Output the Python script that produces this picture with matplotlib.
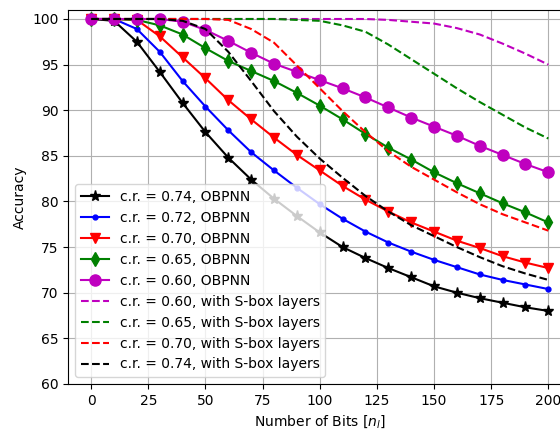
import numpy as np
import matplotlib
matplotlib.use('Agg')
import matplotlib.pyplot as plt

bits = np.arange(0, 201, 10)

# OBPNN curves
acc_074 = [100, 99.8, 97.5, 94.2, 90.8, 87.6, 84.8, 82.4, 80.3, 78.4, 76.6, 75.0, 73.8,
           72.7, 71.7, 70.7, 70.0, 69.4, 68.9, 68.4, 68.0]
acc_072 = [100, 100, 98.9, 96.4, 93.2, 90.4, 87.8, 85.4, 83.4, 81.5, 79.7, 78.1, 76.7,
           75.5, 74.5, 73.6, 72.8, 72.0, 71.4, 70.9, 70.4]
acc_070 = [100, 100, 99.9, 98.1, 95.8, 93.5, 91.1, 89.0, 87.0, 85.1, 83.4, 81.7, 80.2,
           78.9, 77.7, 76.7, 75.7, 74.9, 74.0, 73.3, 72.7]
acc_065 = [100, 100, 99.9, 99.3, 98.3, 96.8, 95.4, 94.3, 93.2, 91.9, 90.5, 89.0, 87.4,
           85.9, 84.6, 83.2, 82.0, 80.9, 79.8, 78.8, 77.7]
acc_060 = [100, 100, 100, 100, 99.7, 98.8, 97.6, 96.3, 95.1, 94.2, 93.3, 92.4, 91.4,
           90.3, 89.2, 88.2, 87.2, 86.1, 85.1, 84.1, 83.2]

# with S-box layers
sbox_060 = [100, 100, 100, 100, 100, 100, 100, 100, 100, 100, 100, 100, 100,
            99.9, 99.7, 99.5, 99.0, 98.3, 97.3, 96.2, 95.0]
sbox_065 = [100, 100, 100, 100, 100, 100, 100, 100, 100, 99.9, 99.8, 99.3, 98.6,
            97.2, 95.6, 94.0, 92.4, 90.9, 89.5, 88.1, 86.9]
sbox_070 = [100, 100, 100, 100, 100, 100, 99.9, 98.9, 97.4, 94.9, 92.4, 89.9, 87.6,
            85.5, 83.8, 82.4, 81.0, 79.7, 78.6, 77.7, 76.8]
sbox_074 = [100, 100, 100, 100, 99.8, 98.9, 96.4, 93.2, 89.9, 87.1, 84.7, 82.6, 80.6,
            78.9, 77.4, 76.2, 75.0, 73.9, 72.9, 72.1, 71.4]

fig = plt.figure(figsize=(5.6, 4.29), dpi=100)
ax = fig.add_axes([0.122, 0.105, 0.898, 0.872])

ax.plot(bits, acc_074, color='k', ls='-', marker='*', markersize=8, label='c.r. = 0.74, OBPNN')
ax.plot(bits, acc_072, color='b', ls='-', marker='.', markersize=7, label='c.r. = 0.72, OBPNN')
ax.plot(bits, acc_070, color='r', ls='-', marker='v', markersize=7, label='c.r. = 0.70, OBPNN')
ax.plot(bits, acc_065, color='g', ls='-', marker='d', markersize=7, label='c.r. = 0.65, OBPNN')
ax.plot(bits, acc_060, color='m', ls='-', marker='o', markersize=8, label='c.r. = 0.60, OBPNN')
ax.plot(bits, sbox_060, 'm--', label='c.r. = 0.60, with S-box layers')
ax.plot(bits, sbox_065, 'g--', label='c.r. = 0.65, with S-box layers')
ax.plot(bits, sbox_070, 'r--', label='c.r. = 0.70, with S-box layers')
ax.plot(bits, sbox_074, 'k--', label='c.r. = 0.74, with S-box layers')

ax.set_xlim(-10, 210)
ax.set_ylim(60, 101)
ax.set_xticks(np.arange(0, 201, 25))
ax.set_yticks(np.arange(60, 101, 5))
ax.grid(True)
ax.set_xlabel(r'Number of Bits [$n_l$]')
ax.set_ylabel('Accuracy')
ax.legend(loc='lower left')

fig.savefig('out.png', dpi=100)
